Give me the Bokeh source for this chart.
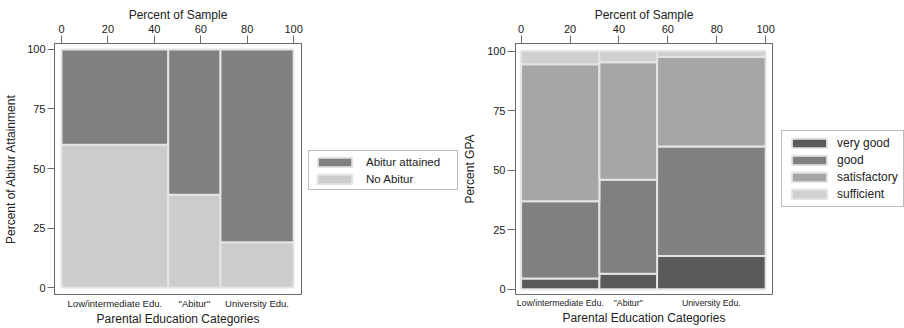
from bokeh.plotting import figure
from bokeh.models import (ColumnDataSource, LinearAxis, Range1d, FixedTicker,
                          Legend, LegendItem)
from bokeh.layouts import row
from bokeh.embed import file_html
from bokeh.resources import INLINE

# ---------------- data ----------------
categories = ['Low/intermediate Edu.', '"Abitur"', 'University Edu.']

# left panel: Abitur attainment
sample_share_abitur = [46.0, 22.5, 31.5]
abitur_attained = [40.0, 61.0, 81.0]
no_abitur = [60.0, 39.0, 19.0]

# right panel: GPA
sample_share_gpa = [32.0, 23.6, 44.4]
gpa_very_good = [4.5, 6.5, 14.0]
gpa_good = [32.5, 39.5, 46.0]
gpa_satisfactory = [57.5, 49.3, 37.5]
gpa_sufficient = [5.5, 4.7, 2.5]

x_ticks = [0, 20, 40, 60, 80, 100]
y_ticks = [0, 25, 50, 75, 100]

FONT = "Liberation Sans"
TXT = "#222222"
EDGE = "#e4e4e4"
FRAME = "#6a6a6a"
H = 328


def mosaic_sources(shares, series, names):
    """series given bottom->top; one source per series"""
    lefts, rights, centers = [], [], []
    acc = 0.0
    for s in shares:
        lefts.append(acc)
        rights.append(acc + s)
        centers.append(round(acc + s / 2.0, 3))
        acc += s
    bottoms = [0.0] * len(shares)
    sources = {}
    for vals, name in zip(series, names):
        tops = [b + v for b, v in zip(bottoms, vals)]
        sources[name] = ColumnDataSource(dict(left=lefts, right=rights,
                                              bottom=list(bottoms), top=tops))
        bottoms = tops
    return sources, centers


def make_panel(width, xr, yr, border_l, ytitle, y_tick_out, y_title_standoff,
               cat_font, sources, centers, names, colors):
    p = figure(width=width, height=H, x_range=Range1d(*xr), y_range=Range1d(*yr),
               output_backend="svg", toolbar_location=None,
               x_axis_location=None, y_axis_location=None,
               min_border_left=border_l, min_border_right=4,
               min_border_top=43, min_border_bottom=30)
    p.grid.visible = False
    p.outline_line_color = FRAME
    p.outline_line_width = 1
    p.background_fill_color = "white"
    p.border_fill_color = "white"

    for n, c in zip(names, colors):
        p.quad(left="left", right="right", bottom="bottom", top="top", source=sources[n],
               fill_color=c, line_color=EDGE, line_width=2)

    ax_top = LinearAxis(ticker=FixedTicker(ticks=x_ticks), axis_label="Percent of Sample")
    ax_left = LinearAxis(ticker=FixedTicker(ticks=y_ticks), axis_label=ytitle)
    ax_bot = LinearAxis(ticker=FixedTicker(ticks=centers),
                        axis_label="Parental Education Categories")
    ax_bot.major_label_overrides = {c: n for c, n in zip(centers, categories)}
    for ax in (ax_top, ax_left, ax_bot):
        ax.axis_line_color = FRAME
        ax.major_tick_line_color = FRAME
        ax.major_tick_in = 0
        ax.minor_tick_line_color = None
        ax.major_label_text_font = FONT
        ax.major_label_text_font_size = "11px"
        ax.major_label_text_color = TXT
        ax.axis_label_text_font = FONT
        ax.axis_label_text_font_size = "12px"
        ax.axis_label_text_font_style = "normal"
        ax.axis_label_text_color = TXT
    ax_top.major_tick_out = 8
    ax_top.major_label_standoff = 3
    ax_top.axis_label_standoff = 0
    ax_left.major_tick_out = y_tick_out
    ax_left.major_label_standoff = 2
    ax_left.axis_label_standoff = y_title_standoff
    ax_bot.axis_line_color = None
    ax_bot.major_tick_line_color = None
    ax_bot.major_tick_out = 0
    ax_bot.major_label_standoff = 3
    ax_bot.axis_label_standoff = 0
    ax_bot.major_label_text_font_size = cat_font
    p.add_layout(ax_top, "above")
    p.add_layout(ax_left, "left")
    p.add_layout(ax_bot, "below")
    return p


def make_legend(width, sources, names, colors, loc, font, standoff, glyph_w,
                label_w, spacing, pad):
    # legend-only panel: the series are drawn here outside the visible range,
    # only their legend swatches appear
    q = figure(width=width, height=H, x_range=Range1d(1000, 1001), y_range=Range1d(1000, 1001),
               output_backend="svg", toolbar_location=None,
               x_axis_location=None, y_axis_location=None,
               min_border=0, min_border_left=0, min_border_right=0,
               min_border_top=0, min_border_bottom=0)
    q.grid.visible = False
    q.outline_line_color = None
    q.background_fill_color = "white"
    q.border_fill_color = "white"
    items = []
    for n, c in zip(names, colors):
        r = q.quad(left="left", right="right", bottom="bottom", top="top", source=sources[n],
                   fill_color=c, line_color=EDGE, line_width=2)
        items.append(LegendItem(label=n, renderers=[r], index=0))
    leg = Legend(items=items, location=loc, orientation="vertical",
                 border_line_color="#7a7a7a", border_line_width=1,
                 background_fill_color="white", background_fill_alpha=1.0,
                 label_text_font=FONT, label_text_font_size=font,
                 label_text_color=TXT, glyph_width=glyph_w, glyph_height=12,
                 label_height=13, label_width=label_w, label_standoff=standoff,
                 spacing=spacing, padding=pad, margin=0)
    q.add_layout(leg)
    return q


names1 = ["No Abitur", "Abitur attained"]
colors1 = ["#cccccc", "#808080"]
src1, cen1 = mosaic_sources(sample_share_abitur, [no_abitur, abitur_attained], names1)

names2 = ["very good", "good", "satisfactory", "sufficient"]
colors2 = ["#5a5a5a", "#808080", "#a6a6a6", "#d0d0d0"]
src2, cen2 = mosaic_sources(sample_share_gpa,
                            [gpa_very_good, gpa_good, gpa_satisfactory, gpa_sufficient], names2)

p1 = make_panel(305, (-3.0, 103.4), (-2.9, 102.5), 54,
                "Percent of Abitur Attainment", 7, 6, "9.5px",
                src1, cen1, names1, colors1)

l1 = make_legend(155, src1, ["Abitur attained", "No Abitur"], ["#808080", "#cccccc"],
                 (3, 104), "11.5px", 10, 43, 87, 4, 4)

p2 = make_panel(316, (-2.3, 102.8), (-2.2, 103.2), 52,
                "Percent GPA", 8, 7, "8.75px",
                src2, cen2, names2, colors2)

l2 = make_legend(128, src2, names2, colors2,
                 (5, 87), "12px", 6, 44, 61, 3, 5)

layout = row(p1, l1, p2, l2)
open("out.html", "w").write(file_html(layout, INLINE))
